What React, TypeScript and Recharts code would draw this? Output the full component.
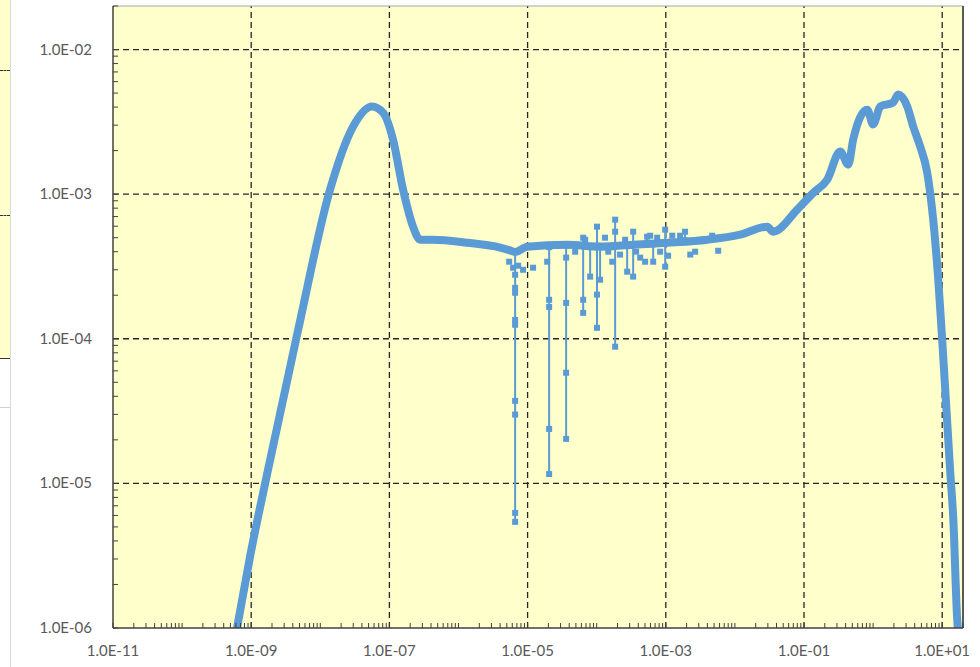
import React from 'react';
import { ComposedChart, Line, XAxis, YAxis, CartesianGrid, ReferenceLine } from 'recharts';

// main smooth curve
const mainX = [
  6.0e-10, 6.24e-10, 9.6e-10, 1.75e-9, 4.77e-9, 1.38e-8, 2.98e-8, 5.6e-8, 8.1e-8, 1.13e-7,
  1.58e-7, 2.2e-7, 2.78e-7, 4.28e-7, 1.33e-6, 4.0e-6, 5.4e-6, 6.6e-6, 9.8e-6, 3.73e-5,
  1.12e-4, 3.37e-4, 1.05e-3, 3.97e-3, 1.19e-2, 2.93e-2, 3.58e-2, 7.98e-2, 0.136, 0.217,
  0.334, 0.437, 0.515, 0.822, 1.0, 1.27, 1.95, 2.31, 3.12, 3.81,
  4.81, 6.07, 7.41, 8.77, 10.0, 13.1, 14.5, 16.5, 17.2,
];
const mainY = [
  9.0e-7, 1.0e-6, 3.1e-6, 1.24e-5, 1.15e-4, 1.07e-3, 2.93e-3, 4.04e-3, 3.66e-3, 2.38e-3,
  1.07e-3, 5.96e-4, 4.84e-4, 4.84e-4, 4.61e-4, 4.27e-4, 4.1e-4, 3.98e-4, 4.33e-4, 4.47e-4,
  4.33e-4, 4.47e-4, 4.61e-4, 4.84e-4, 5.25e-4, 5.96e-4, 5.5e-4, 7.82e-4, 1.02e-3, 1.26e-3,
  1.97e-3, 1.6e-3, 2.38e-3, 3.84e-3, 3.03e-3, 4.04e-3, 4.3e-3, 4.88e-3, 4.04e-3, 2.93e-3,
  2.13e-3, 1.41e-3, 6.66e-4, 2.56e-4, 9.84e-5, 1.18e-5, 5.6e-6, 1.14e-6, 9.0e-7,
];

// drop-outs and outliers, each group drawn at one x
const spikeX = [
  6.6e-6, 2.05e-5, 3.61e-5, 6.37e-5, 8.04e-5, 1.01e-4, 1.12e-4, 1.85e-4,
  2.76e-4, 3.37e-4, 5.37e-4, 6.57e-4, 9.8e-4, 1.9e-3,
];
const spikeY = [
  [4.0e-4, 2.77e-4, 2.25e-4, 2.08e-4, 1.35e-4, 1.25e-4, 3.72e-5, 2.99e-5, 6.25e-6, 5.42e-6],
  [4.3e-4, 1.86e-4, 1.66e-4, 2.38e-5, 1.16e-5],
  [4.4e-4, 1.77e-4, 5.82e-5, 2.03e-5],
  [5.0e-4, 4.4e-4, 1.86e-4, 1.51e-4],
  [4.4e-4, 2.69e-4],
  [5.96e-4, 4.4e-4, 2.02e-4, 1.19e-4],
  [4.4e-4, 2.56e-4],
  [6.66e-4, 5.5e-4, 4.4e-4, 8.81e-5],
  [4.4e-4, 2.91e-4],
  [5.5e-4, 4.5e-4, 2.69e-4],
  [5.08e-4, 4.5e-4],
  [4.5e-4, 3.41e-4],
  [5.68e-4, 4.6e-4, 3.15e-4],
  [5.5e-4, 4.8e-4],
];

// scattered points around the flat part
const noiseX = [
  5.41e-6, 6.17e-6, 7.3e-6, 8.6e-6, 1.2e-5, 1.92e-5, 3.61e-5, 4.88e-5, 6.81e-5, 1.32e-4,
  1.47e-4, 1.68e-4, 2.18e-4, 2.58e-4, 3.72e-4, 4.26e-4, 5.02e-4, 5.94e-4, 7.5e-4, 8.28e-4,
  1.08e-3, 1.24e-3, 1.61e-3, 2.26e-3, 2.66e-3, 4.69e-3, 5.73e-3,
];
const noiseY = [
  3.41e-4, 3.1e-4, 3.2e-4, 3.0e-4, 3.1e-4, 3.41e-4, 3.64e-4, 4.0e-4, 4.84e-4, 5.0e-4,
  4.0e-4, 3.41e-4, 3.82e-4, 4.84e-4, 4.0e-4, 3.64e-4, 3.41e-4, 5.16e-4, 5.0e-4, 4.0e-4,
  3.75e-4, 5.16e-4, 5.16e-4, 3.82e-4, 4.0e-4, 5.16e-4, 4.06e-4,
];

// markers visible on the steep right tail
const tailX = [10.0, 11.2, 12.2, 13.1, 13.8, 14.5, 15.3, 16.0, 16.5];
const tailY = [9.84e-5, 4.2e-5, 2.1e-5, 1.18e-5, 8.0e-6, 5.6e-6, 3.2e-6, 1.9e-6, 1.14e-6];

const xTickValues = [1e-11, 1e-9, 1e-7, 1e-5, 1e-3, 1e-1, 1e1];
const xTickLabels = ['1.0E-11', '1.0E-09', '1.0E-07', '1.0E-05', '1.0E-03', '1.0E-01', '1.0E+01'];
const yTickValues = [1e-6, 1e-5, 1e-4, 1e-3, 1e-2];
const yTickLabels = ['1.0E-06', '1.0E-05', '1.0E-04', '1.0E-03', '1.0E-02'];
const minorSteps = [1, 2, 3, 4, 5, 6, 7, 8, 9];

const X_MIN = 1e-11;
const X_MAX = 20;
const Y_MIN = 1e-6;
const Y_MAX = 2e-2;

const BLUE = '#5B9BD5';
const LABEL = '#595959';
const FONT = 'Lato, "Noto Sans", sans-serif';

function logTicks(lo: number, hi: number) {
  const out: number[] = [];
  for (let e = Math.round(Math.log10(lo)); e <= Math.ceil(Math.log10(hi)); e++) {
    for (const k of minorSteps) {
      const v = k * Math.pow(10, e);
      if (v >= lo * 0.999 && v <= hi * 1.001) out.push(v);
    }
  }
  return out;
}

const xTicks = logTicks(X_MIN, X_MAX);
const yTicks = logTicks(Y_MIN, Y_MAX);

const same = (a: number, b: number) => Math.abs(a - b) / b < 1e-6;

const mainData = mainX.map((x, i) => ({ x, y: mainY[i] }));
const tailData = tailX.map((x, i) => ({ x, y: tailY[i] }));
const spikeData: { x: number; y: number | null }[] = [];
spikeX.forEach((x, i) => {
  spikeY[i].forEach((y) => spikeData.push({ x, y }));
  spikeData.push({ x, y: null });
});
const noiseData: { x: number; y: number | null }[] = [];
noiseX.forEach((x, i) => {
  noiseData.push({ x, y: noiseY[i] });
  noiseData.push({ x, y: null });
});

const XTick = (props: any) => {
  const { x, y, payload } = props;
  const i = xTickValues.findIndex((v) => same(payload.value, v));
  return (
    <g>
      <line x1={x} y1={y} x2={x} y2={y - 5} stroke="#404040" strokeWidth={1} />
      {i >= 0 && (
        <text x={x} y={y + 28} textAnchor="middle" fill={LABEL} fontSize={15} fontFamily={FONT}>
          {xTickLabels[i]}
        </text>
      )}
    </g>
  );
};

const YTick = (props: any) => {
  const { x, y, payload } = props;
  const i = yTickValues.findIndex((v) => same(payload.value, v));
  return (
    <g>
      <line x1={x} y1={y} x2={x + 5} y2={y} stroke="#404040" strokeWidth={1} />
      {i >= 0 && (
        <text x={x - 21} y={y + 5} textAnchor="end" fill={LABEL} fontSize={15} fontFamily={FONT}>
          {yTickLabels[i]}
        </text>
      )}
    </g>
  );
};

const SquareDot = (props: any) => {
  const { cx, cy, index } = props;
  if (cx == null || cy == null || Number.isNaN(cy)) return <g key={index} />;
  return <rect key={index} x={cx - 3} y={cy - 3} width={6} height={6} fill={BLUE} />;
};

export default function App() {
  return (
    <div style={{ position: 'absolute', left: 0, top: 0, width: 980, height: 667, background: '#fff', overflow: 'hidden' }}>
      {/* fragment of the window behind */}
      <div style={{ position: 'absolute', left: 0, top: 0, width: 10, height: 358, background: '#FFFFCC', borderBottom: '1px solid #333' }} />
      <div style={{ position: 'absolute', left: 0, top: 70, width: 10, borderTop: '1px dashed #333' }} />
      <div style={{ position: 'absolute', left: 0, top: 215, width: 10, borderTop: '1px dashed #333' }} />
      <div style={{ position: 'absolute', left: 0, top: 407, width: 10, borderTop: '1px solid #d0d0d0' }} />
      <div style={{ position: 'absolute', left: 10, top: 0, width: 1, height: 667, background: '#d9d9d9' }} />

      <div style={{ position: 'absolute', left: 0, top: 0 }}>
        <ComposedChart width={980} height={667} margin={{ top: 6, right: 17, bottom: 0, left: 0 }}>
          <CartesianGrid horizontal={false} vertical={false} fill="#FFFFCC" fillOpacity={1} />
          <XAxis
            dataKey="x"
            type="number"
            scale="log"
            domain={[X_MIN, X_MAX]}
            allowDataOverflow
            ticks={xTicks}
            interval={0}
            tick={<XTick />}
            tickLine={false}
            tickSize={0}
            tickMargin={0}
            height={39}
            axisLine={{ stroke: '#404040', strokeWidth: 1.5 }}
          />
          <YAxis
            type="number"
            scale="log"
            domain={[Y_MIN, Y_MAX]}
            allowDataOverflow
            ticks={yTicks}
            interval={0}
            tick={<YTick />}
            tickLine={false}
            tickSize={0}
            tickMargin={0}
            width={113}
            axisLine={{ stroke: '#404040', strokeWidth: 1.5 }}
          />
          {xTickValues.slice(1).map((v) => (
            <ReferenceLine key={'gx' + v} x={v} stroke="#262626" strokeWidth={1.3} strokeDasharray="6 4" zIndex={-50} />
          ))}
          {yTickValues.slice(1).map((v) => (
            <ReferenceLine key={'gy' + v} y={v} stroke="#262626" strokeWidth={1.3} strokeDasharray="6 4" zIndex={-50} />
          ))}
          <ReferenceLine y={Y_MAX} stroke="#a6a6a6" strokeWidth={1} />
          <ReferenceLine x={X_MAX} stroke="#595959" strokeWidth={2} />
          <Line
            data={spikeData}
            dataKey="y"
            stroke={BLUE}
            strokeWidth={2}
            dot={SquareDot}
            activeDot={false}
            connectNulls={false}
            isAnimationActive={false}
          />
          <Line
            data={noiseData}
            dataKey="y"
            stroke={BLUE}
            strokeWidth={2}
            dot={SquareDot}
            activeDot={false}
            connectNulls={false}
            isAnimationActive={false}
          />
          <Line
            data={tailData}
            dataKey="y"
            stroke={BLUE}
            strokeWidth={2}
            dot={SquareDot}
            activeDot={false}
            isAnimationActive={false}
          />
          <Line
            data={mainData}
            dataKey="y"
            type="monotone"
            stroke={BLUE}
            strokeWidth={8}
            strokeLinejoin="round"
            strokeLinecap="round"
            dot={false}
            activeDot={false}
            isAnimationActive={false}
          />
        </ComposedChart>
      </div>
    </div>
  );
}
